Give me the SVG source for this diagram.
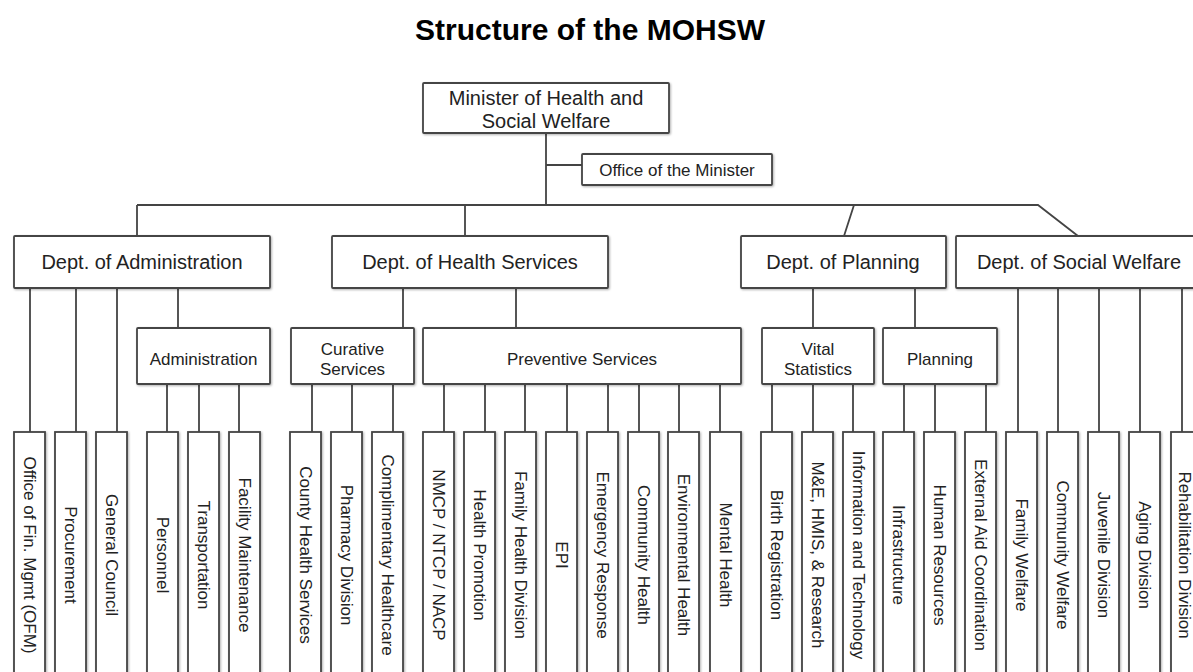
<svg xmlns="http://www.w3.org/2000/svg" width="1193" height="672" viewBox="0 0 1193 672">
<defs>
<filter id="sh" x="-20%" y="-20%" width="140%" height="140%">
<feDropShadow dx="1" dy="1" stdDeviation="0.8" flood-color="#000" flood-opacity="0.3"/>
</filter>
</defs>
<style>
.b{fill:#fff;stroke:#444;stroke-width:1.8;filter:url(#sh)}
.c{fill:none;stroke:#444;stroke-width:1.8}
text{font-family:"Liberation Sans",Arial,sans-serif;fill:#222}
.t20{font-size:20px;text-anchor:middle}
.t17{font-size:17px;text-anchor:middle}
.v{font-size:17px;text-anchor:middle;dominant-baseline:central}
.title{font-size:30px;font-weight:bold;text-anchor:middle;fill:#000}
</style>
<rect width="1193" height="672" fill="#fff"/>
<text class="title" x="590" y="40">Structure of the MOHSW</text>

<g id="connectors">
<path class="c" d="M546,133V205M546,165H582M137,205H1038L1078,236M137,205V236M465,205V236M854,205L844,236"/>
<path class="c" d="M30,288V432M76,288V432M117,288V432M178,288V328"/>
<path class="c" d="M403,288V328M516,288V328M813,288V328M915,288V328"/>
<path class="c" d="M1018,288V432M1058,288V432M1099,288V432M1140,288V432M1182,288V432"/>
<path class="c" d="M167,384V432M199,384V432M239,384V432M312,384V432M352,384V432M393,384V432"/>
<path class="c" d="M444,384V432M485,384V432M525,384V432M567,384V432M608,384V432M639,384V432M679,384V432M720,384V432"/>
<path class="c" d="M772,384V432M813,384V432M853,384V432M904,384V432M935,384V432M986,384V432"/>
</g>

<g id="minister"><rect class="b" x="423" y="83" width="246" height="50" rx="1"/>
<text class="t20" x="546" y="105">Minister of Health and</text><text class="t20" x="546" y="128">Social Welfare</text></g>
<g id="office"><rect class="b" x="582" y="154" width="190" height="31" rx="1"/>
<text class="t17" x="677" y="176">Office of the Minister</text></g>

<g id="dept-admin"><rect class="b" x="14" y="236" width="256" height="52" rx="1"/><text class="t20" x="142" y="269">Dept. of Administration</text></g>
<g id="dept-health"><rect class="b" x="332" y="236" width="276" height="52" rx="1"/><text class="t20" x="470" y="269">Dept. of Health Services</text></g>
<g id="dept-planning"><rect class="b" x="741" y="236" width="205" height="52" rx="1"/><text class="t20" x="843" y="269">Dept. of Planning</text></g>
<g id="dept-social"><rect class="b" x="956" y="236" width="250" height="52" rx="1"/><text class="t20" x="1079" y="269">Dept. of Social Welfare</text></g>

<g id="administration"><rect class="b" x="137" y="328" width="133" height="56" rx="1"/><text class="t17" x="203.5" y="365">Administration</text></g>
<g id="curative"><rect class="b" x="291" y="328" width="123" height="56" rx="1"/><text class="t17" x="352.5" y="355">Curative</text><text class="t17" x="352.5" y="375">Services</text></g>
<g id="preventive"><rect class="b" x="423" y="328" width="318" height="56" rx="1"/><text class="t17" x="582" y="365">Preventive Services</text></g>
<g id="vital"><rect class="b" x="762" y="328" width="112" height="56" rx="1"/><text class="t17" x="818" y="355">Vital</text><text class="t17" x="818" y="375">Statistics</text></g>
<g id="planning"><rect class="b" x="883" y="328" width="114" height="56" rx="1"/><text class="t17" x="940" y="365">Planning</text></g>

<g id="n1"><rect class="b" x="14" y="432" width="31" height="250"/><text class="v" transform="translate(29.5,555) rotate(90)">Office of Fin.  Mgmt (OFM)</text></g>
<g id="n2"><rect class="b" x="55" y="432" width="31" height="250"/><text class="v" transform="translate(70.5,555) rotate(90)">Procurement</text></g>
<g id="n3"><rect class="b" x="96" y="432" width="31" height="250"/><text class="v" transform="translate(111.5,555) rotate(90)">General Council</text></g>
<g id="n4"><rect class="b" x="147" y="432" width="31" height="250"/><text class="v" transform="translate(162.5,555) rotate(90)">Personnel</text></g>
<g id="n5"><rect class="b" x="188" y="432" width="31" height="250"/><text class="v" transform="translate(203.5,555) rotate(90)">Transportation</text></g>
<g id="n6"><rect class="b" x="229" y="432" width="31" height="250"/><text class="v" transform="translate(244.5,555) rotate(90)">Facility Maintenance</text></g>
<g id="n7"><rect class="b" x="290" y="432" width="31" height="250"/><text class="v" transform="translate(305.5,555) rotate(90)">County Health Services</text></g>
<g id="n8"><rect class="b" x="331" y="432" width="31" height="250"/><text class="v" transform="translate(346.5,555) rotate(90)">Pharmacy Division</text></g>
<g id="n9"><rect class="b" x="372" y="432" width="31" height="250"/><text class="v" transform="translate(387.5,555) rotate(90)">Complimentary Healthcare</text></g>
<g id="n10"><rect class="b" x="423" y="432" width="31" height="250"/><text class="v" transform="translate(438.5,555) rotate(90)">NMCP / NTCP / NACP</text></g>
<g id="n11"><rect class="b" x="464" y="432" width="31" height="250"/><text class="v" transform="translate(479.5,555) rotate(90)">Health Promotion</text></g>
<g id="n12"><rect class="b" x="505" y="432" width="31" height="250"/><text class="v" transform="translate(520.5,555) rotate(90)">Family Health Division</text></g>
<g id="n13"><rect class="b" x="546" y="432" width="31" height="250"/><text class="v" transform="translate(561.5,555) rotate(90)">EPI</text></g>
<g id="n14"><rect class="b" x="587" y="432" width="31" height="250"/><text class="v" transform="translate(602.5,555) rotate(90)">Emergency Response</text></g>
<g id="n15"><rect class="b" x="628" y="432" width="31" height="250"/><text class="v" transform="translate(643.5,555) rotate(90)">Community Health</text></g>
<g id="n16"><rect class="b" x="668" y="432" width="31" height="250"/><text class="v" transform="translate(683.5,555) rotate(90)">Environmental Health</text></g>
<g id="n17"><rect class="b" x="710" y="432" width="31" height="250"/><text class="v" transform="translate(725.5,555) rotate(90)">Mental  Health</text></g>
<g id="n18"><rect class="b" x="761" y="432" width="31" height="250"/><text class="v" transform="translate(776.5,555) rotate(90)">Birth Registration</text></g>
<g id="n19"><rect class="b" x="802" y="432" width="31" height="250"/><text class="v" transform="translate(817.5,555) rotate(90)">M&amp;E, HMIS, &amp; Research</text></g>
<g id="n20"><rect class="b" x="843" y="432" width="31" height="250"/><text class="v" transform="translate(858.5,555) rotate(90)">Information and Technology</text></g>
<g id="n21"><rect class="b" x="883" y="432" width="31" height="250"/><text class="v" transform="translate(898.5,555) rotate(90)">Infrastructure</text></g>
<g id="n22"><rect class="b" x="924" y="432" width="31" height="250"/><text class="v" transform="translate(939.5,555) rotate(90)">Human Resources</text></g>
<g id="n23"><rect class="b" x="965" y="432" width="31" height="250"/><text class="v" transform="translate(980.5,555) rotate(90)">External Aid Coordination</text></g>
<g id="n24"><rect class="b" x="1006" y="432" width="31" height="250"/><text class="v" transform="translate(1021.5,555) rotate(90)">Family Welfare</text></g>
<g id="n25"><rect class="b" x="1047" y="432" width="31" height="250"/><text class="v" transform="translate(1062.5,555) rotate(90)">Community Welfare</text></g>
<g id="n26"><rect class="b" x="1088" y="432" width="31" height="250"/><text class="v" transform="translate(1103.5,555) rotate(90)">Juvenile Division</text></g>
<g id="n27"><rect class="b" x="1129" y="432" width="31" height="250"/><text class="v" transform="translate(1144.5,555) rotate(90)">Aging Division</text></g>
<g id="n28"><rect class="b" x="1171" y="432" width="31" height="250"/><text class="v" transform="translate(1184,555) rotate(90)">Rehabilitation Division</text></g>
</svg>
